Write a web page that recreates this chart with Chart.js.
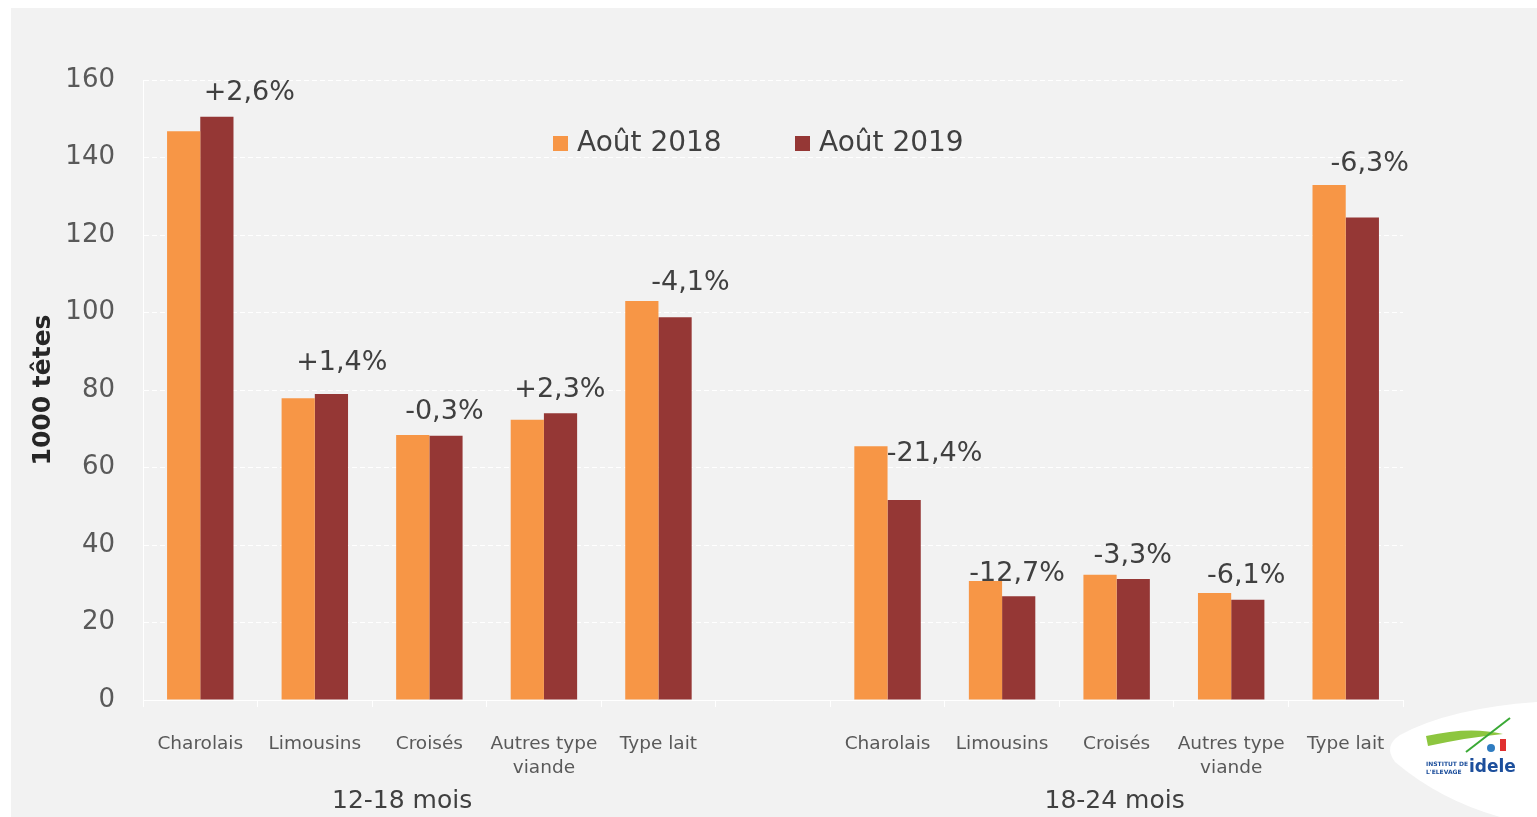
<!DOCTYPE html>
<html>
<head>
<meta charset="utf-8">
<script src="https://cdn.jsdelivr.net/npm/chart.js@4"></script>
<style>
  html, body { margin: 0; padding: 0; background: #ffffff; }
  #wrap { position: relative; width: 1537px; height: 817px; }
</style>
</head>
<body>
<div id="wrap"><canvas id="chart" width="1537" height="817"></canvas></div>
<script>
const FONT = "'DejaVu Sans', sans-serif";

const categories = ['Charolais', 'Limousins', 'Croisés', ['Autres type', 'viande'], 'Type lait', '',
  'Charolais', 'Limousins', 'Croisés', ['Autres type', 'viande'], 'Type lait'];
const aout2018 = [146.8, 77.9, 68.4, 72.3, 103.0, null, 65.5, 30.7, 32.3, 27.6, 132.9];
const aout2019 = [150.5, 79.0, 68.2, 74.0, 98.8, null, 51.6, 26.8, 31.2, 25.9, 124.5];
const variations = ['+2,6%', '+1,4%', '-0,3%', '+2,3%', '-4,1%', '', '-21,4%', '-12,7%', '-3,3%', '-6,1%', '-6,3%'];
const groupNames = ['12-18 mois', '18-24 mois'];
const seriesNames = ['Août 2018', 'Août 2019'];
const yTitle = '1000 têtes';

// placement of the variation labels (pixels from slot centre / top of highest bar)
const labelDx = [49, 27, 15, 16, 32, 0, 47, 15, 16, 15, 24];
const labelDy = [-24, -31, -23, -23, -18, 0, 8, -7, -19, -17, -21];

const ORANGE = '#f79646';
const RED = '#953735';
const TEXT = '#404040';

const decorPlugin = {
  id: 'decor',
  beforeDraw(chart) {
    const ctx = chart.ctx;
    ctx.save();
    ctx.fillStyle = '#f2f2f2';
    ctx.fillRect(11, 8, chart.width - 11, chart.height - 8);
    ctx.restore();
  },
  afterDatasetsDraw(chart) {
    const ctx = chart.ctx;
    const x = chart.scales.x;
    const y = chart.scales.y;
    ctx.save();

    // variation labels
    ctx.font = '27px ' + FONT;
    ctx.fillStyle = TEXT;
    ctx.textAlign = 'center';
    ctx.textBaseline = 'middle';
    variations.forEach((txt, i) => {
      if (!txt) return;
      const top = y.getPixelForValue(Math.max(aout2018[i], aout2019[i]));
      ctx.fillText(txt, x.getPixelForValue(i) + labelDx[i], top + labelDy[i]);
    });

    // legend inside the plot
    const legendX = [553, 795];
    const colors = [ORANGE, RED];
    ctx.textAlign = 'left';
    ctx.font = '28px ' + FONT;
    seriesNames.forEach((name, i) => {
      ctx.fillStyle = colors[i];
      ctx.fillRect(legendX[i], 136, 15, 15);
      ctx.fillStyle = TEXT;
      ctx.fillText(name, legendX[i] + 24, 144);
    });

    // group labels under the categories
    ctx.textAlign = 'center';
    ctx.font = '25px ' + FONT;
    ctx.fillStyle = TEXT;
    ctx.fillText(groupNames[0], (x.getPixelForValue(1) + x.getPixelForValue(2)) / 2 + 30, 801);
    ctx.fillText(groupNames[1], x.getPixelForValue(8) - 2, 801);

    // y axis title
    ctx.save();
    ctx.translate(43, 390);
    ctx.rotate(-Math.PI / 2);
    ctx.font = 'bold 25px ' + FONT;
    ctx.fillStyle = '#262626';
    ctx.fillText(yTitle, 0, 0);
    ctx.restore();

    // logo corner
    ctx.fillStyle = '#ffffff';
    ctx.beginPath();
    ctx.moveTo(1400, 735);
    ctx.quadraticCurveTo(1450, 708, 1537, 702);
    ctx.lineTo(1537, 817);
    ctx.lineTo(1500, 817);
    ctx.quadraticCurveTo(1440, 800, 1395, 762);
    ctx.quadraticCurveTo(1383, 746, 1400, 735);
    ctx.fill();

    ctx.fillStyle = '#8dc63f';
    ctx.beginPath();
    ctx.moveTo(1426, 736);
    ctx.quadraticCurveTo(1470, 726, 1503, 734);
    ctx.quadraticCurveTo(1470, 737, 1428, 746);
    ctx.closePath();
    ctx.fill();
    ctx.strokeStyle = '#3aa935';
    ctx.lineWidth = 2;
    ctx.beginPath();
    ctx.moveTo(1466, 752);
    ctx.lineTo(1510, 718);
    ctx.stroke();
    ctx.fillStyle = '#e03030';
    ctx.fillRect(1500, 739, 6, 12);
    ctx.fillStyle = '#2f7cc1';
    ctx.beginPath();
    ctx.arc(1491, 748, 4, 0, Math.PI * 2);
    ctx.fill();

    ctx.fillStyle = '#1d4f9c';
    ctx.textAlign = 'left';
    ctx.font = 'bold 6px ' + FONT;
    ctx.fillText('INSTITUT DE', 1426, 764);
    ctx.fillText("L'ELEVAGE", 1426, 772);
    ctx.font = 'bold 17px ' + FONT;
    ctx.fillText('idele', 1469, 768);

    ctx.restore();
  }
};

new Chart(document.getElementById('chart'), {
  type: 'bar',
  data: {
    labels: categories,
    datasets: [
      {
        label: seriesNames[0],
        data: aout2018,
        backgroundColor: ORANGE,
        categoryPercentage: 0.58,
        barPercentage: 1.0
      },
      {
        label: seriesNames[1],
        data: aout2019,
        backgroundColor: RED,
        categoryPercentage: 0.58,
        barPercentage: 1.0
      }
    ]
  },
  options: {
    responsive: false,
    animation: false,
    layout: { padding: { top: 80, right: 134, left: 0, bottom: 0 } },
    plugins: {
      legend: { display: false },
      tooltip: { enabled: false }
    },
    scales: {
      x: {
        afterFit(scale) { scale.height = 117; },
        grid: {
          drawOnChartArea: false,
          drawTicks: true,
          tickLength: 7,
          color: '#ffffff',
          lineWidth: 1
        },
        border: { color: '#ffffff', width: 1 },
        ticks: {
          color: '#595959',
          font: { family: FONT, size: 18.5, lineHeight: 1.3 },
          padding: 25,
          maxRotation: 0,
          autoSkip: false
        }
      },
      y: {
        min: 0,
        max: 160,
        afterFit(scale) { scale.width = 143; },
        grid: {
          color: '#ffffff',
          lineWidth: 1,
          drawTicks: false
        },
        border: { color: '#ffffff', width: 1, dash: [5, 3] },
        ticks: {
          stepSize: 20,
          color: '#595959',
          font: { family: FONT, size: 26 },
          padding: 28
        }
      }
    }
  },
  plugins: [decorPlugin]
});
</script>
</body>
</html>
